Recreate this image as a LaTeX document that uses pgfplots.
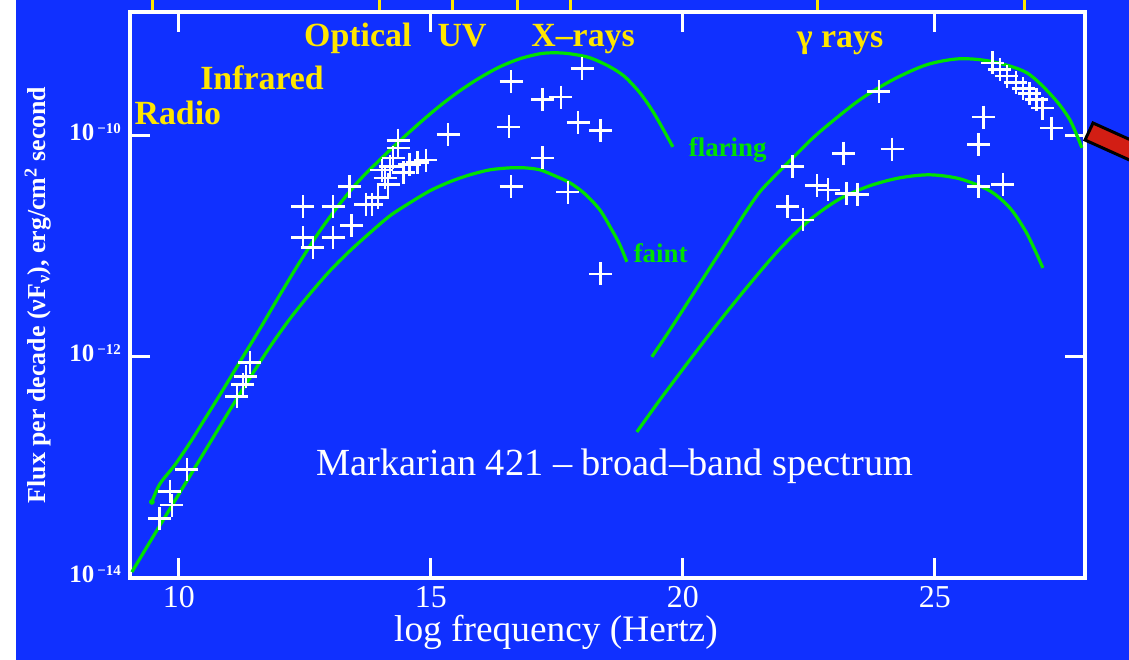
\documentclass[border=0pt]{standalone}
\usepackage{fontspec}
\setmainfont{Liberation Serif}
\usepackage{pgfplots}
\pgfplotsset{compat=1.18}
\definecolor{bg}{RGB}{16,48,255}
\definecolor{ylw}{RGB}{255,230,0}
\definecolor{grn}{RGB}{0,225,0}
\definecolor{redbar}{RGB}{210,30,20}
\begin{document}
\begin{tikzpicture}[x=1bp,y=1bp]
\path[use as bounding box] (0,0) rectangle (1129,660);
\fill[bg] (0,0) rectangle (1129,660);
\fill[white] (0,0) rectangle (16,660);
% yellow band boundary ticks above the frame
\begin{axis}[at={(130bp,82bp)}, anchor=south west, scale only axis,
  width=955bp, height=566bp,
  xmin=9.03, xmax=27.98, ymin=-14, ymax=-8.88,
  axis x line*=top, hide y axis, x axis line style={draw=none},
  xtick={9.48,13.99,15.42,16.71,17.78,22.68,26.77}, xticklabels={},
  tick align=outside, major tick length=13bp,
  tick style={ylw, line width=3bp}]
\end{axis}
\begin{axis}[at={(130bp,82bp)}, anchor=south west, scale only axis,
  width=955bp, height=566bp,
  xmin=9.03, xmax=27.98, ymin=-14, ymax=-8.88,
  axis line style={white, line width=4bp},
  tick align=inside, tick pos=both, major tick length=20bp,
  tick style={white, line width=3bp},
  xtick={10,15,20,25}, xticklabels={10,15,20,25},
  ytick={-14,-12,-10},
  yticklabels={%
    {\textbf{10}\hspace{3bp}\raisebox{7bp}{\fontsize{15}{15}\selectfont\bfseries −14}},
    {\textbf{10}\hspace{3bp}\raisebox{7bp}{\fontsize{15}{15}\selectfont\bfseries −12}},
    {\textbf{10}\hspace{3bp}\raisebox{7bp}{\fontsize{15}{15}\selectfont\bfseries −10}}},
  xticklabel style={font=\fontsize{32}{32}\selectfont, text=white, anchor=base, inner sep=0pt, yshift=-30bp},
  yticklabel style={font=\fontsize{25}{25}\selectfont, text=white, anchor=base east, inner sep=0pt, xshift=-9bp, yshift=-5bp},
  xlabel={log frequency (Hertz)},
  xlabel style={font=\fontsize{37.5}{37.5}\selectfont, text=white, at={(axis description cs:0.446,-0.1122)}, anchor=base, inner sep=0pt},
  ylabel={Flux per decade (νF\textsubscript{ν}), erg/cm\textsuperscript{2} second},
  ylabel style={font=\bfseries\fontsize{26}{26}\selectfont, text=white, at={(axis description cs:-0.0963,0.5)}, anchor=center, inner sep=0pt},
  clip mode=individual]
% synchrotron, flaring
\addplot[grn, line width=3.2bp, smooth] coordinates {
(9.464,-13.312) (9.623,-13.149) (9.921,-12.977) (10.218,-12.778) (10.516,-12.561)
(10.813,-12.344) (11.210,-12.045) (11.607,-11.747) (12.004,-11.439) (12.401,-11.140)
(12.798,-10.860) (13.194,-10.615) (13.591,-10.398) (13.988,-10.217) (14.385,-10.045)
(14.782,-9.882) (15.179,-9.729) (15.575,-9.593) (15.972,-9.475) (16.369,-9.376)
(16.766,-9.303) (17.163,-9.258) (17.460,-9.249) (17.758,-9.258) (18.155,-9.294)
(18.552,-9.376) (18.849,-9.466) (19.147,-9.611) (19.385,-9.765) (19.583,-9.919)
(19.802,-10.100)};
\addplot[grn, only marks, mark=*, mark size=2.6bp] coordinates {(9.464,-13.312)};
% synchrotron, faint
\addplot[grn, line width=3.2bp, smooth] coordinates {
(9.067,-13.946) (9.425,-13.674) (9.821,-13.376) (10.218,-13.077) (10.615,-12.778)
(11.012,-12.480) (11.409,-12.190) (11.806,-11.910) (12.202,-11.656) (12.599,-11.430)
(12.996,-11.222) (13.393,-11.041) (13.790,-10.878) (14.187,-10.724) (14.583,-10.606)
(14.980,-10.498) (15.377,-10.416) (15.774,-10.353) (16.171,-10.308) (16.567,-10.290)
(16.865,-10.290) (17.163,-10.308) (17.460,-10.362) (17.758,-10.425) (18.056,-10.525)
(18.353,-10.670) (18.591,-10.851) (18.750,-10.986) (18.889,-11.140)};
% Compton, flaring
\addplot[grn, line width=3.2bp, smooth] coordinates {
(19.385,-12.000) (19.782,-11.729) (20.179,-11.448) (20.575,-11.167) (20.933,-10.914)
(21.250,-10.688) (21.528,-10.507) (21.845,-10.353) (22.183,-10.199) (22.520,-10.045)
(22.857,-9.910) (23.512,-9.674) (24.167,-9.493) (24.841,-9.357) (25.496,-9.303)
(26.151,-9.330) (26.825,-9.430) (27.341,-9.647) (27.679,-9.855) (27.917,-10.109)};
% Compton, faint
\addplot[grn, line width=3.2bp, smooth] coordinates {
(19.087,-12.679) (19.544,-12.389) (20.139,-12.027) (20.734,-11.674) (21.329,-11.339)
(21.925,-11.023) (22.520,-10.760) (23.115,-10.570) (23.710,-10.452) (24.306,-10.380)
(24.901,-10.353) (25.496,-10.389) (26.091,-10.498) (26.488,-10.652) (26.786,-10.851)
(26.984,-11.032) (27.143,-11.195)};
% measurements
\addplot[only marks, mark=+, mark size=11.5bp, mark options={white, line width=2.6bp}] coordinates {
(9.62,-13.46) (9.86,-13.34) (9.82,-13.22) (10.16,-13.02)
(11.41,-12.05) (11.33,-12.18) (11.27,-12.25) (11.15,-12.36)
(12.46,-10.64) (13.06,-10.64) (12.46,-10.92) (12.66,-11.01) (13.06,-10.92)
(13.43,-10.81) (13.39,-10.46) (13.71,-10.62) (13.83,-10.62) (13.95,-10.56)
(14.09,-10.38) (14.19,-10.28) (14.25,-10.20) (14.35,-10.11) (14.35,-10.04)
(14.46,-10.33) (14.58,-10.26) (14.74,-10.24) (14.90,-10.22) (15.34,-9.99)
(14.15,-10.44) (14.03,-10.31)
(16.59,-9.51) (17.22,-9.67) (17.58,-9.65) (18.00,-9.39) (16.55,-9.92)
(17.92,-9.88) (18.37,-9.95) (17.22,-10.20) (16.59,-10.46) (17.72,-10.51)
(18.37,-11.25)
(23.89,-9.60) (22.18,-10.28) (23.19,-10.16) (24.15,-10.12) (22.08,-10.64)
(22.38,-10.76) (22.66,-10.45) (22.88,-10.49) (23.25,-10.52) (23.47,-10.53)
(25.97,-9.83) (25.87,-10.08) (25.87,-10.46) (26.35,-10.44)
(26.15,-9.34) (26.29,-9.40) (26.43,-9.46) (26.61,-9.52) (26.75,-9.57)
(26.88,-9.62) (27.02,-9.67) (27.14,-9.75) (27.32,-9.93)};
% band names
\node[ylw, font=\bfseries\fontsize{34}{34}\selectfont, anchor=base, inner sep=0pt] at (axis cs:13.55,-9.195) {Optical};
\node[ylw, font=\bfseries\fontsize{34}{34}\selectfont, anchor=base, inner sep=0pt] at (axis cs:15.62,-9.195) {UV};
\node[ylw, font=\bfseries\fontsize{34}{34}\selectfont, anchor=base, inner sep=0pt] at (axis cs:18.02,-9.195) {X–rays};
\node[ylw, font=\bfseries\fontsize{34}{34}\selectfont, anchor=base, inner sep=0pt] at (axis cs:23.12,-9.20) {γ rays};
\node[ylw, font=\bfseries\fontsize{34}{34}\selectfont, anchor=base, inner sep=0pt] at (axis cs:11.65,-9.58) {Infrared};
\node[ylw, font=\bfseries\fontsize{34}{34}\selectfont, anchor=base, inner sep=0pt] at (axis cs:9.98,-9.90) {Radio};
\node[grn, font=\bfseries\fontsize{27}{27}\selectfont, anchor=base, inner sep=0pt] at (axis cs:20.89,-10.19) {flaring};
\node[grn, font=\bfseries\fontsize{27}{27}\selectfont, anchor=base, inner sep=0pt] at (axis cs:19.56,-11.15) {faint};
\node[white, font=\fontsize{38.5}{38.5}\selectfont, anchor=base, inner sep=0pt] at (axis cs:18.65,-13.07) {Markarian 421 – broad–band spectrum};
\end{axis}
\begin{scope}
\clip (0,0) rectangle (1129,660);
\filldraw[fill=redbar, draw=black, line width=3bp] (1093,537) -- (1193,492) -- (1185,475) -- (1085,520) -- cycle;
\end{scope}
\end{tikzpicture}
\end{document}
